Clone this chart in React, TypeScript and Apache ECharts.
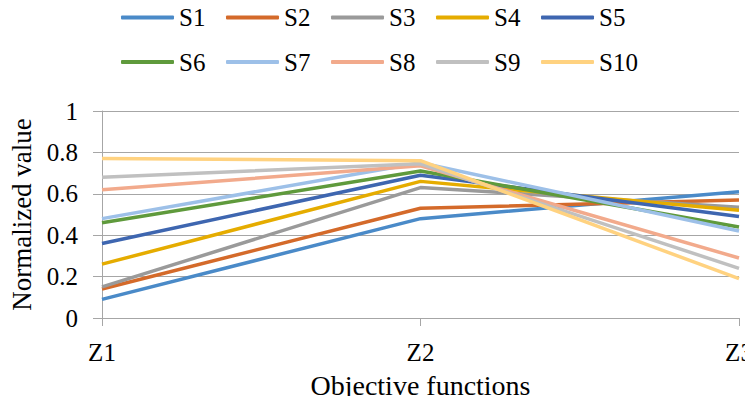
import React, { useEffect, useRef } from "react";
import * as echarts from "echarts";

const categories = ["Z1", "Z2", "Z3"];
const seriesNames = ["S1", "S2", "S3", "S4", "S5", "S6", "S7", "S8", "S9", "S10"];
const S1 = [0.09, 0.48, 0.61];
const S2 = [0.14, 0.53, 0.57];
const S3 = [0.15, 0.63, 0.535];
const S4 = [0.26, 0.66, 0.52];
const S5 = [0.36, 0.69, 0.49];
const S6 = [0.46, 0.71, 0.44];
const S7 = [0.48, 0.75, 0.42];
const S8 = [0.62, 0.735, 0.29];
const S9 = [0.68, 0.745, 0.24];
const S10 = [0.77, 0.76, 0.19];
const seriesValues = [S1, S2, S3, S4, S5, S6, S7, S8, S9, S10];
const colors = [
  "#4A8AC8", "#D46A2A", "#9A9A9A", "#E5AC00", "#3E66B0",
  "#5F9A3C", "#9DC0E8", "#F2AA8C", "#C0C0C0", "#FFD280",
];
const yTicks = [0, 0.2, 0.4, 0.6, 0.8, 1];

const FONT = "Liberation Serif";

export default function App() {
  const ref = useRef<HTMLDivElement>(null);
  useEffect(() => {
    if (!ref.current) return;
    const chart = echarts.init(ref.current, null, { renderer: "svg" });
    const legendCommon = {
      orient: "horizontal" as const,
      left: 116,
      padding: 5,
      itemWidth: 53,
      itemHeight: 4,
      itemGap: 20.6,
      icon: "roundRect",
      textStyle: { fontFamily: FONT, fontSize: 25, color: "#000" },
    };
    chart.setOption({
      animation: false,
      color: colors,
      legend: [
        { ...legendCommon, top: 0, data: seriesNames.slice(0, 5) },
        { ...legendCommon, top: 44.5, data: seriesNames.slice(5) },
      ],
      grid: {
        left: 102,
        right: 14,
        top: 111,
        bottom: 86,
        containLabel: false,
        outerBoundsMode: "none",
      },
      xAxis: {
        type: "category",
        data: categories,
        boundaryGap: false,
        name: "Objective functions",
        nameLocation: "middle",
        nameGap: 53,
        nameTextStyle: { fontFamily: FONT, fontSize: 28, color: "#000" },
        axisLine: { lineStyle: { color: "#A6A6A6", width: 1 } },
        axisTick: { show: true, length: 8, lineStyle: { color: "#A6A6A6" } },
        axisLabel: { fontFamily: FONT, fontSize: 25, color: "#000", margin: 22 },
        splitLine: { show: false },
      },
      yAxis: {
        type: "value",
        min: 0,
        max: 1,
        interval: 0.2,
        name: "Normalized value",
        nameLocation: "middle",
        nameGap: 62,
        nameTextStyle: { fontFamily: FONT, fontSize: 27, color: "#000" },
        axisLine: { show: true, lineStyle: { color: "#A6A6A6", width: 1 } },
        axisTick: { show: true, length: 9, lineStyle: { color: "#A6A6A6" } },
        axisLabel: {
          fontFamily: FONT,
          fontSize: 25,
          color: "#000",
          margin: 24,
          formatter: (v: number) => {
            const t = yTicks.find((x) => Math.abs(x - v) < 1e-9);
            return t === undefined ? "" : String(Number(t.toFixed(1)));
          },
        },
        splitLine: { show: true, lineStyle: { color: "#A6A6A6", width: 1 } },
      },
      series: seriesNames.map((name, i) => ({
        name,
        type: "line",
        data: seriesValues[i],
        showSymbol: false,
        symbol: "none",
        lineStyle: { width: 3.5, color: colors[i] },
        itemStyle: { color: colors[i] },
      })),
    });
    return () => chart.dispose();
  }, []);
  return <div ref={ref} style={{ width: 753, height: 404, margin: -8 }} />;
}
